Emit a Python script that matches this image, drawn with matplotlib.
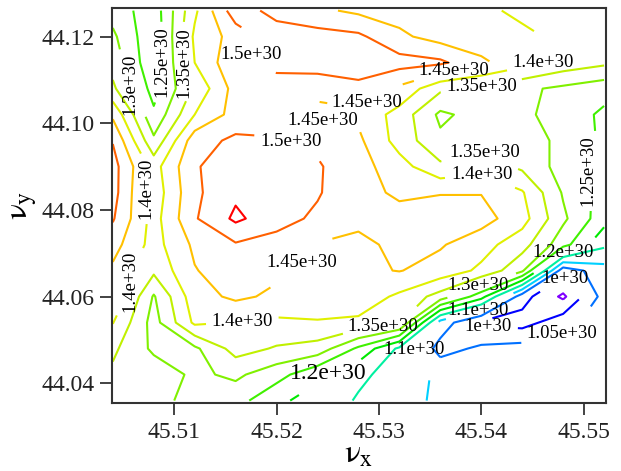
import numpy as np
import matplotlib.pyplot as plt

plt.rcParams['font.family'] = 'Liberation Serif'
plt.rcParams['mathtext.fontset'] = 'stix'

# grid of the scan
nu_x = [45.504, 45.508, 45.512, 45.516, 45.520, 45.524, 45.528,
        45.532, 45.536, 45.540, 45.544, 45.548, 45.552]
nu_y = [44.126, 44.120, 44.114, 44.108, 44.102, 44.096, 44.090, 44.084,
        44.078, 44.072, 44.066, 44.060, 44.054, 44.048, 44.042, 44.036]

# values in units of 1e30, one row per nu_y (top to bottom)
rate = [
    [1.28, 1.22, 1.39, 1.53, 1.48, 1.46, 1.44, 1.43, 1.42, 1.41, 1.39, 1.38, 1.37],
    [1.31, 1.21, 1.41, 1.47, 1.53, 1.52, 1.51, 1.46, 1.43, 1.42, 1.41, 1.39, 1.38],
    [1.33, 1.21, 1.40, 1.49, 1.52, 1.53, 1.54, 1.52, 1.51, 1.46, 1.42, 1.38, 1.36],
    [1.36, 1.23, 1.36, 1.47, 1.47, 1.46, 1.48, 1.44, 1.36, 1.34, 1.31, 1.29, 1.27],
    [1.44, 1.26, 1.40, 1.47, 1.47, 1.44, 1.44, 1.38, 1.29, 1.32, 1.31, 1.28, 1.24],
    [1.497, 1.31, 1.48, 1.51, 1.505, 1.49, 1.46, 1.38, 1.31, 1.33, 1.32, 1.29, 1.24],
    [1.52, 1.38, 1.495, 1.53, 1.52, 1.505, 1.47, 1.42, 1.36, 1.38, 1.34, 1.28, 1.23],
    [1.52, 1.37, 1.49, 1.54, 1.53, 1.505, 1.46, 1.445, 1.448, 1.448, 1.405, 1.295, 1.23],
    [1.505, 1.38, 1.495, 1.56, 1.52, 1.49, 1.46, 1.46, 1.47, 1.47, 1.42, 1.31, 1.22],
    [1.47, 1.38, 1.46, 1.495, 1.48, 1.447, 1.44, 1.46, 1.455, 1.42, 1.37, 1.27, 1.16],
    [1.44, 1.36, 1.447, 1.48, 1.46, 1.44, 1.44, 1.452, 1.43, 1.39, 1.31, 1.02, 1.08],
    [1.448, 1.295, 1.43, 1.46, 1.44, 1.44, 1.43, 1.39, 1.33, 1.22, 1.02, 0.94, 1.07],
    [1.402, 1.28, 1.41, 1.398, 1.39, 1.395, 1.39, 1.36, 1.08, 0.99, 0.98, 1.03, 1.08],
    [1.36, 1.29, 1.29, 1.37, 1.345, 1.33, 1.24, 1.14, 1.03, 1.06, 1.07, 1.08, 1.09],
    [1.34, 1.33, 1.29, 1.31, 1.27, 1.21, 1.16, 1.13, 1.09, 1.09, 1.09, 1.09, 1.09],
    [1.33, 1.32, 1.28, 1.27, 1.21, 1.18, 1.145, 1.12, 1.09, 1.09, 1.09, 1.09, 1.09],
]

levels = [0.95, 1.00, 1.05, 1.10, 1.15, 1.20, 1.25, 1.30, 1.35, 1.40, 1.45, 1.50, 1.55]
level_colors = ['#8000ff', '#0000ff', '#0070ff', '#00d0ff', '#00f0a0', '#00e800',
                '#40f000', '#80f000', '#c0f000', '#e0f000', '#ffc000', '#ff6000',
                '#ff0000']

# where the contour labels sit, and which ones stand upright
label_at = [
    (45.5175, 44.1158), (45.5372, 44.1133), (45.5461, 44.1136), (45.5284, 44.1061),
    (45.5402, 44.1061), (45.5246, 44.1015), (45.5215, 44.0962), (45.5402, 44.0927),
    (45.5402, 44.0886), (45.5507, 44.0892), (45.5055, 44.1089), (45.5081, 44.1142),
    (45.5106, 44.1138), (45.5071, 44.0851), (45.5057, 44.0634), (45.5252, 44.0638),
    (45.5167, 44.0534), (45.5480, 44.0701), (45.5482, 44.0643), (45.5397, 44.0622),
    (45.5397, 44.0569), (45.5477, 44.0527), (45.5407, 44.0527), (45.5304, 44.0536),
    (45.5328, 44.0469), (45.5252, 44.0412),
]
upright = [9, 10, 11, 12, 13, 14]

X, Y = np.meshgrid(nu_x, nu_y[::-1])
Z = np.flipud(np.array(rate)) * 1e30

fig = plt.figure(figsize=(6.21, 4.71), dpi=100)
ax = fig.add_axes([0.180, 0.144, 0.796, 0.839])

cs = ax.contour(X, Y, Z, levels=np.array(levels) * 1e30, colors=level_colors,
                linewidths=1.5)
texts = ax.clabel(cs, manual=label_at, fmt=lambda v: '%g' % v, fontsize=13.5,
                  colors='black', inline=True, inline_spacing=6)
for i, t in enumerate(texts):
    t.set_rotation(90 if i in upright else 0)
if len(texts):
    texts[-1].set_fontsize(17)

ax.set_xlim(45.5039, 45.5522)
ax.set_ylim(44.0354, 44.1266)
ax.set_xticks([45.51, 45.52, 45.53, 45.54, 45.55])
ax.set_xticklabels(['45.51', '45.52', '45.53', '45.54', '45.55'])
ax.set_yticks([44.04, 44.06, 44.08, 44.10, 44.12])
ax.set_yticklabels(['44.04', '44.06', '44.08', '44.10', '44.12'])
ax.tick_params(direction='out', length=8.5, width=1.2, labelsize=17,
               top=False, right=False, colors='#222222')
ax.tick_params(axis='x', pad=5)
ax.tick_params(axis='y', pad=4)
for s in ax.spines.values():
    s.set_linewidth(1.5)
    s.set_color('#333333')

ax.set_xlabel(r'$\mathrm{\nu}_\mathrm{x}$', fontsize=24, labelpad=-3)
ax.set_ylabel(r'$\mathrm{\nu}_\mathrm{y}$', fontsize=24, labelpad=2)

fig.savefig('out.png', dpi=100)
